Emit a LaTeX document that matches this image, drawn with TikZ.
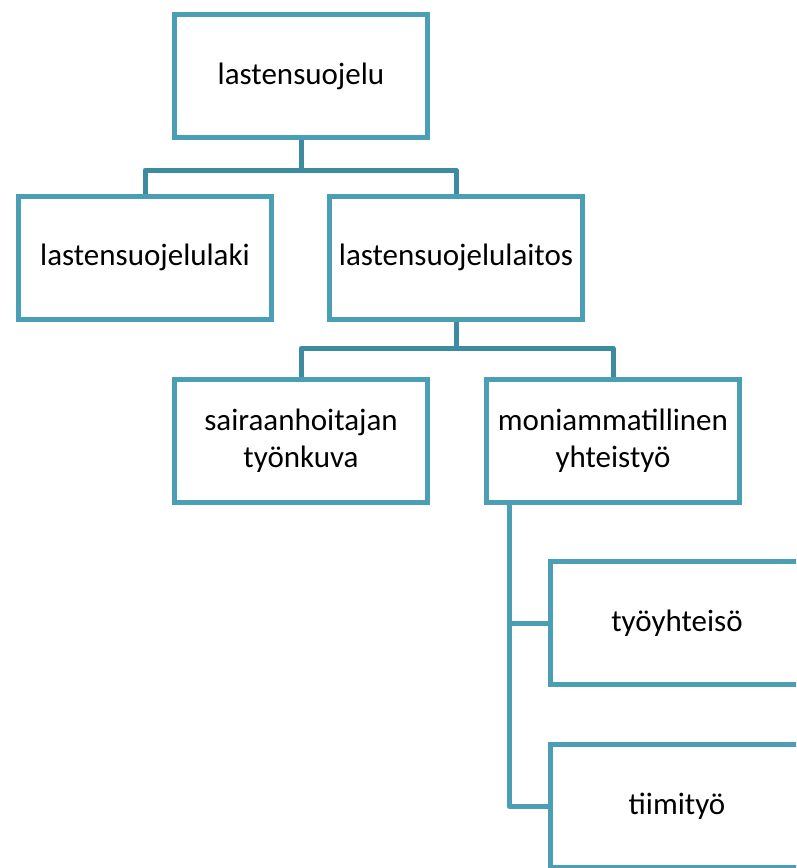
\documentclass[tikz,border=0pt]{standalone}
\usepackage{fontspec}
\setmainfont{Carlito}
\usetikzlibrary{positioning}
\definecolor{boxline}{HTML}{4A9FB5}
\definecolor{connline}{HTML}{3D8BA0}
\tikzset{
  orgbox/.style={draw=boxline, line width=5pt, fill=white, align=center,
    minimum width=253pt, minimum height=123pt, inner sep=0pt,
    font=\fontsize{31}{37}\selectfont},
  conn/.style={draw=connline, line width=5pt, line join=round},
  sideconn/.style={conn, draw=boxline}
}
\begin{document}
\begin{tikzpicture}[x=1pt, y=-1pt]
    \clip (0,0) rectangle (796,868);
    \fill[white] (0,0) rectangle (796,868);
    \node[orgbox] (top) at (301,76) {lastensuojelu};
    \node[orgbox] (laitos) at (456,257.5) {lastensuojelulaitos};
    \node[orgbox, left=53pt of laitos] (laki) {lastensuojelulaki};
    \node[orgbox] (hoitaja) at (301,440.5) {sairaanhoitajan\\työnkuva};
    \node[orgbox, right=54pt of hoitaja] (moni) {moniammatillinen\\yhteistyö};
    \node[orgbox] (tyoyhteiso) at (677,623) {työyhteisö};
    \node[orgbox, below=55pt of tyoyhteiso] (tiimi) {tiimityö};
    \coordinate (trunk) at ([xshift=25pt]moni.south west);
    \draw[conn] (top.south) -- +(0,30) -| (laki.north);
    \draw[conn] (top.south) -- +(0,30) -| (laitos.north);
    \draw[conn] (laitos.south) -- +(0,27) -| (hoitaja.north);
    \draw[conn] (laitos.south) -- +(0,27) -| (moni.north);
    \draw[sideconn] (trunk) |- (tyoyhteiso.west);
    \draw[sideconn] (trunk) |- (tiimi.west);
  \end{tikzpicture}
\end{document}
